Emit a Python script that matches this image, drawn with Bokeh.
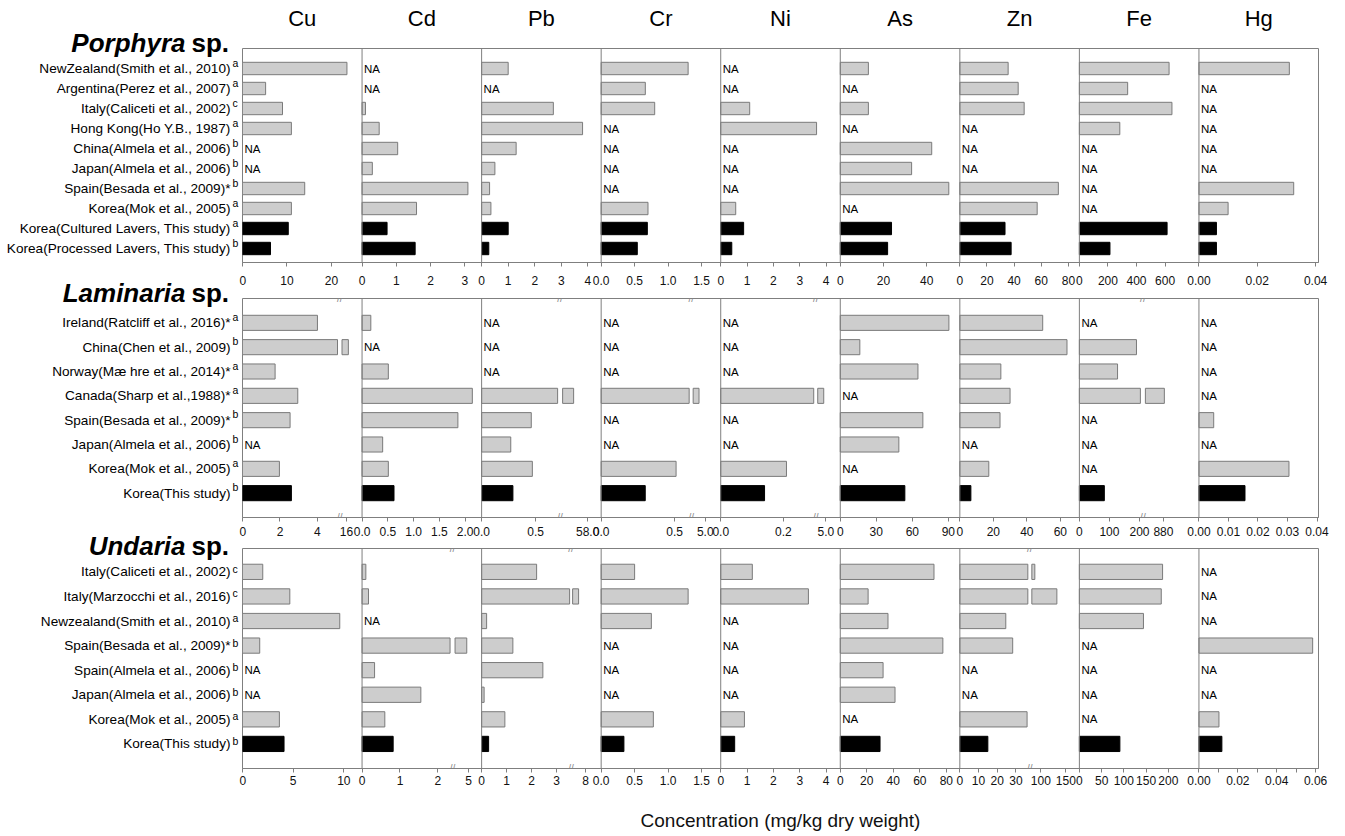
from bokeh.plotting import figure
from bokeh.models import (ColumnDataSource, Range1d, FixedTicker,
                          CustomJSTickFormatter, Span)
from bokeh.layouts import column, row
from bokeh.core.properties import value
from bokeh.embed import file_html
from bokeh.resources import INLINE

FONT = "Liberation Sans"
ELEMENTS = ["Cu", "Cd", "Pb", "Cr", "Ni", "As", "Zn", "Fe", "Hg"]
NA = None

# ---------------- Porphyra sp. ----------------
por_refs = ["NewZealand(Smith et al., 2010)", "Argentina(Perez et al., 2007)",
            "Italy(Caliceti et al., 2002)", "Hong Kong(Ho Y.B., 1987)",
            "China(Almela et al., 2006)", "Japan(Almela et al., 2006)",
            "Spain(Besada et al., 2009)*", "Korea(Mok et al., 2005)",
            "Korea(Cultured Lavers, This study)", "Korea(Processed Lavers, This study)"]
por_sup = ["a", "a", "c", "a", "b", "b", "b", "a", "a", "b"]
por_cu = [23.5, 5.2, 9.0, 11.0, NA, NA, 14.0, 11.0, 10.3, 6.3]
por_cd = [NA, NA, 0.10, 0.50, 1.04, 0.30, 3.09, 1.59, 0.73, 1.55]
por_pb = [1.0, NA, 2.7, 3.8, 1.3, 0.5, 0.3, 0.35, 1.0, 0.27]
por_cr = [1.3, 0.66, 0.8, NA, NA, NA, NA, 0.7, 0.69, 0.54]
por_ni = [NA, NA, 1.1, 3.64, NA, NA, NA, 0.57, 0.87, 0.42]
por_as = [13, NA, 13, NA, 42.3, 33, 50.2, NA, 23.7, 21.9]
por_zn = [35.6, 43, 47.4, NA, NA, NA, 72.6, 57, 33.3, 37.8]
por_fe = [628, 338, 648, 283, NA, NA, NA, NA, 614, 214]
por_hg = [0.031, NA, NA, NA, NA, NA, 0.0325, 0.010, 0.006, 0.006]

# ---------------- Laminaria sp. ----------------
lam_refs = ["Ireland(Ratcliff et al., 2016)*", "China(Chen et al., 2009)",
            "Norway(M\u00e6 hre et al., 2014)*", "Canada(Sharp et al.,1988)*",
            "Spain(Besada et al., 2009)*", "Japan(Almela et al., 2006)",
            "Korea(Mok et al., 2005)", "Korea(This study)"]
lam_sup = ["a", "b", "a", "a", "b", "b", "a", "b"]
lam_cu = [4.0, 16.1, 1.74, 2.95, 2.54, NA, 1.97, 2.61]
lam_cd = [0.17, NA, 0.51, 2.14, 1.86, 0.40, 0.51, 0.62]
lam_pb = [NA, NA, NA, 55.2, 0.46, 0.27, 0.47, 0.29]
lam_cr = [NA, NA, NA, 4.82, NA, NA, 0.51, 0.30]
lam_ni = [NA, NA, NA, 4.93, NA, NA, 0.21, 0.14]
lam_as = [90.5, 16.3, 64.7, NA, 68.8, 48.8, NA, 53.8]
lam_zn = [49.5, 64, 24.5, 30, 24, NA, 17.3, 6.6]
lam_fe = [NA, 190, 127, 883, NA, NA, NA, 83]
lam_hg = [NA, NA, NA, NA, 0.005, NA, 0.0305, 0.0156]

# ---------------- Undaria sp. ----------------
und_refs = ["Italy(Caliceti et al., 2002)", "Italy(Marzocchi et al., 2016)",
            "Newzealand(Smith et al., 2010)", "Spain(Besada et al., 2009)*",
            "Spain(Almela et al., 2006)", "Japan(Almela et al., 2006)",
            "Korea(Mok et al., 2005)", "Korea(This study)"]
und_sup = ["c", "c", "a", "b", "b", "b", "a", "b"]
und_cu = [2.0, 4.67, 9.6, 1.7, NA, NA, 3.64, 4.1]
und_cd = [0.10, 0.17, NA, 4.88, 0.33, 1.55, 0.60, 0.82]
und_pb = [2.2, 7.3, 0.2, 1.25, 2.45, 0.1, 0.93, 0.28]
und_cr = [0.5, 1.3, 0.75, NA, NA, NA, 0.78, 0.34]
und_ni = [1.2, 3.33, NA, NA, NA, NA, 0.9, 0.53]
und_as = [70.7, 21, 36, 77.4, 32.3, 41.3, NA, 30]
und_zn = [88, 132, 24.6, 28.3, NA, NA, 36, 15]
und_fe = [187, 184, 144, NA, NA, NA, NA, 91]
und_hg = [NA, NA, NA, 0.0585, NA, NA, 0.0103, 0.0118]

# ---------------- layout constants ----------------
TOTAL_W = 1340
LEFT_W = 239
PANEL_W = TOTAL_W - LEFT_W
FRAME_W = 1076
MB_L = 3
MB_R = PANEL_W - MB_L - FRAME_W
HEADER_H = 46
CW = FRAME_W / 9.0  # pixel width of one element panel


def lin(vmax):
    return [(0.0, vmax, 0.0, CW)]


def tk(vals, fmt="{:g}"):
    return [(v, fmt.format(v)) for v in vals]


# axis definitions: value segments (with breaks) and tick labels
por_axes = {
    "Cu": (lin(26.9), tk([0, 10, 20])),
    "Cd": (lin(3.49), tk([0, 1, 2, 3])),
    "Pb": (lin(4.5), tk([0, 1, 2, 3, 4])),
    "Cr": (lin(1.787), tk([0, 0.5, 1.0, 1.5], "{:.1f}")),
    "Ni": (lin(4.54), tk([0, 1, 2, 3, 4])),
    "As": (lin(55.3), tk([0, 20, 40])),
    "Zn": (lin(88.1), tk([0, 20, 40, 60, 80])),
    "Fe": (lin(837), tk([0, 200, 400, 600])),
    "Hg": (lin(0.041), tk([0, 0.02, 0.04], "{:.2f}")),
}
lam_axes = {
    "Cu": ([(0, 5.07, 0, 95), (15.76, 16.83, 99.5, CW)], tk([0, 2, 4, 16])),
    "Cd": (lin(2.32), tk([0, 0.5, 1.0, 1.5, 2.0], "{:.1f}")),
    "Pb": ([(0, 0.704, 0, 76), (53, 60.7, 81, CW)], tk([0, 0.5, 58], "{:.1f}")),
    "Cr": ([(0, 0.599, 0, 88), (4.65, 5.45, 92, CW)], tk([0, 0.5, 5], "{:.1f}")),
    "Ni": ([(0, 0.297, 0, 93), (4.73, 5.48, 97, CW)], tk([0, 0.2, 5], "{:.1f}")),
    "As": (lin(99.6), tk([0, 30, 60, 90])),
    "Zn": (lin(71.4), tk([0, 20, 40, 60])),
    "Fe": ([(0, 203, 0, 61), (820, 998, 66, CW)], tk([0, 100, 200, 880])),
    "Hg": (lin(0.0405), tk([0, 0.01, 0.02, 0.03, 0.04], "{:.2f}")),
}
und_axes = {
    "Cu": (lin(11.8), tk([0, 5, 10])),
    "Cd": ([(0, 2.32, 0, 88), (4.1, 5.87, 93, CW)], tk([0, 1, 2, 5])),
    "Pb": ([(0, 3.52, 0, 88), (6.7, 9.56, 91, CW)], tk([0, 1, 2, 3, 8])),
    "Cr": (lin(1.787), tk([0, 0.5, 1.0, 1.5], "{:.1f}")),
    "Ni": (lin(4.54), tk([0, 1, 2, 3, 4])),
    "As": (lin(90.2), tk([0, 20, 40, 60, 80])),
    "Zn": ([(0, 36.4, 0, 68), (82, 177, 72, CW)], tk([0, 10, 20, 30, 100, 150])),
    "Fe": (lin(268.7), tk([0, 50, 100, 150, 200])),
    "Hg": (lin(0.0615), [(0, "0.00"), (0.01, ""), (0.02, "0.02"), (0.03, ""),
                         (0.04, "0.04"), (0.05, ""), (0.06, "0.06")]),
}

GRAY_FILL = "#cdcdcd"
GRAY_LINE = "#7a7a7a"
FRAME_COL = "#7f7f7f"


def disp(k, v, segs):
    """Map a value of panel k onto the shared x scale (one unit per panel)."""
    seg = segs[0]
    if v > segs[0][1]:
        for s in segs[1:]:
            if v >= s[0] or s is segs[-1]:
                seg = s
    v0, v1, p0, p1 = seg
    px = p0 + (v - v0) * (p1 - p0) / (v1 - v0)
    return k + px / CW


def build_panels(refs, series, axes, y_lo, y_hi, frame_h, top, bottom,
                 tick_standoff, xlabel=None):
    n = len(refs)
    ys = list(range(n - 1, -1, -1))
    pxu = frame_h / (y_hi - y_lo)
    height = top + frame_h + bottom
    p = figure(width=PANEL_W, height=height, x_range=Range1d(0, 9),
               y_range=Range1d(y_lo, y_hi), output_backend="svg",
               toolbar_location=None, y_axis_location=None,
               min_border_left=MB_L, min_border_right=MB_R,
               min_border_top=top, min_border_bottom=bottom)
    p.grid.visible = False
    p.outline_line_color = FRAME_COL
    p.outline_line_width = 1

    left, right, yb, fill, line = [], [], [], [], []
    na_x, na_y = [], []
    tick_pos, tick_lab = [], {}
    brk_x = []
    for k, el in enumerate(ELEMENTS):
        segs, ticks = axes[el]
        for i, v in enumerate(series[el]):
            y = ys[i]
            if v is None:
                na_x.append(k)
                na_y.append(y)
                continue
            ours = "This study" in refs[i]
            fc = "#000000" if ours else GRAY_FILL
            lc = "#000000" if ours else GRAY_LINE
            if len(segs) > 1 and v > segs[0][1]:
                pieces = [(k, k + segs[0][3] / CW),
                          (k + segs[1][2] / CW, disp(k, v, segs))]
            else:
                pieces = [(k, disp(k, v, segs))]
            for a, b in pieces:
                left.append(a)
                right.append(b)
                yb.append(y)
                fill.append(fc)
                line.append(lc)
        for tv, tl in ticks:
            pos = disp(k, tv, segs)
            tick_pos.append(pos)
            tick_lab["%.4f" % pos] = tl
        if len(segs) > 1:
            brk_x.append(k + (segs[0][3] + segs[1][2]) / 2.0 / CW)

    src = ColumnDataSource(dict(y=yb, left=left, right=right, fill=fill, line=line))
    p.hbar(y="y", left="left", right="right", height=0.62, source=src,
           fill_color="fill", line_color="line", line_width=1)

    if na_x:
        p.text(x=na_x, y=na_y, text=["NA"] * len(na_x), x_offset=2,
               text_font=value(FONT), text_font_size=value("11.5px"),
               text_baseline="middle", text_align="left", text_color="black")

    for k in range(1, 9):
        p.add_layout(Span(location=k, dimension="height",
                          line_color=FRAME_COL, line_width=1))

    if brk_x:
        p.text(x=brk_x * 2, y=[y_hi] * len(brk_x) + [y_lo] * len(brk_x),
               text=["//"] * (2 * len(brk_x)), text_font=value(FONT),
               text_font_size=value("10px"), text_baseline="middle",
               text_align="center", text_color="#8a8a8a")

    ax = p.xaxis[0]
    ax.ticker = FixedTicker(ticks=tick_pos, minor_ticks=[])
    ax.formatter = CustomJSTickFormatter(
        args=dict(labels=tick_lab),
        code="const k = tick.toFixed(4); return (k in labels) ? labels[k] : '';")
    ax.axis_line_color = FRAME_COL
    ax.major_tick_line_color = FRAME_COL
    ax.major_tick_in = 0
    ax.major_tick_out = 4
    ax.minor_tick_line_color = None
    ax.major_label_standoff = tick_standoff
    ax.major_label_text_font = FONT
    ax.major_label_text_font_size = "12px"
    ax.major_label_text_color = "#111111"
    if xlabel:
        ax.axis_label = xlabel
        ax.axis_label_text_font = FONT
        ax.axis_label_text_font_size = "19px"
        ax.axis_label_text_font_style = "normal"
        ax.axis_label_text_color = "#111111"
        ax.axis_label_standoff = 22
    return p, ys, pxu


por_series = dict(zip(ELEMENTS, [por_cu, por_cd, por_pb, por_cr, por_ni,
                                 por_as, por_zn, por_fe, por_hg]))
lam_series = dict(zip(ELEMENTS, [lam_cu, lam_cd, lam_pb, lam_cr, lam_ni,
                                 lam_as, lam_zn, lam_fe, lam_hg]))
und_series = dict(zip(ELEMENTS, [und_cu, und_cd, und_pb, und_cr, und_ni,
                                 und_as, und_zn, und_fe, und_hg]))

# (genus, refs, sups, series, axes, y_lo, y_hi, frame_h, top, bottom, tick standoff,
#  title centre relative to frame top, superscript rise)
ROWS = [
    ("Porphyra", por_refs, por_sup, por_series, por_axes, -0.7, 10.0, 214, 2, 28, 9, -6, 6),
    ("Laminaria", lam_refs, lam_sup, lam_series, lam_axes, -1.0, 8.0, 219, 8, 25, 5, -6, 6),
    ("Undaria", und_refs, und_sup, und_series, und_axes, -1.0, 7.95, 220, 6, 68, 3, -3, 3),
]

panels = []
lab_x, lab_y, lab_t = [], [], []
sup_x, sup_y, sup_t = [], [], []
tit_y, tit_t = [], []
page_y = HEADER_H
for r, (genus, refs, sups, series, axes, y_lo, y_hi, fh, top, bottom, ts, tdrop, rise) in enumerate(ROWS):
    p, ys, pxu = build_panels(refs, series, axes, y_lo, y_hi, fh, top, bottom, ts,
                              xlabel="Concentration (mg/kg dry weight)" if r == 2 else None)
    panels.append(p)
    frame_top = page_y + top
    for i, y in enumerate(ys):
        yy = frame_top + (y_hi - y) * pxu
        lab_x.append(LEFT_W - 9)
        lab_y.append(yy)
        lab_t.append(refs[i])
        sup_x.append(LEFT_W - 7)
        sup_y.append(yy - rise)
        sup_t.append(sups[i])
    tit_y.append(frame_top + tdrop)
    tit_t.append(genus)
    page_y += top + fh + bottom

TOTAL_H = page_y

# left column: study labels and genus titles
left = figure(width=LEFT_W, height=TOTAL_H, x_range=Range1d(0, LEFT_W),
              y_range=Range1d(TOTAL_H, 0), output_backend="svg",
              toolbar_location=None, x_axis_location=None, y_axis_location=None,
              min_border=0)
left.grid.visible = False
left.outline_line_color = None
left.text(x=lab_x, y=lab_y, text=lab_t, text_align="right", text_baseline="middle",
          text_font=value(FONT), text_font_size=value("13.6px"), text_color="black")
left.text(x=sup_x, y=sup_y, text=sup_t, text_align="left", text_baseline="middle",
          text_font=value(FONT), text_font_size=value("10.5px"), text_color="black")
left.text(x=[LEFT_W - 54] * 3, y=tit_y, text=tit_t, text_align="right",
          text_baseline="middle", text_font=value(FONT),
          text_font_size=value("26px"), text_font_style="bold italic",
          text_color="black")
left.text(x=[LEFT_W - 48] * 3, y=tit_y, text=["sp."] * 3, text_align="left",
          text_baseline="middle", text_font=value(FONT),
          text_font_size=value("26px"), text_font_style="bold", text_color="black")

# header strip with element names
header = figure(width=PANEL_W, height=HEADER_H, x_range=Range1d(0, 9),
                y_range=Range1d(HEADER_H, 0), output_backend="svg",
                toolbar_location=None, x_axis_location=None, y_axis_location=None,
                min_border_left=MB_L, min_border_right=MB_R,
                min_border_top=0, min_border_bottom=0)
header.grid.visible = False
header.outline_line_color = None
header.text(x=[k + 0.5 for k in range(9)], y=[18] * 9, text=ELEMENTS,
            text_align="center", text_baseline="middle", text_font=value(FONT),
            text_font_size=value("22px"), text_color="black")

layout = row(left, column(header, *panels, spacing=0), spacing=0)
open("out.html", "w").write(file_html(layout, INLINE))
